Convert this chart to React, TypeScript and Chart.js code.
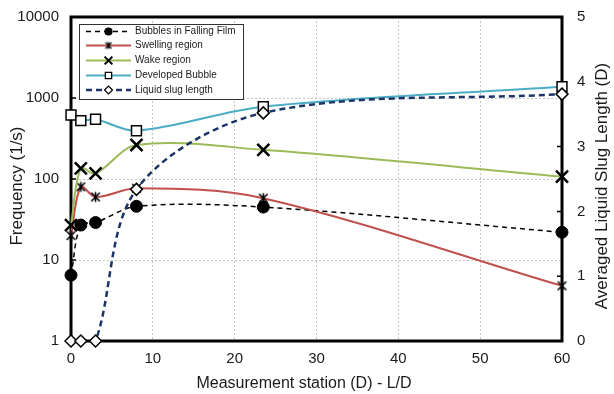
import React, { useEffect, useRef } from "react";
import { Chart, registerables } from "chart.js";
import { drawPoint } from "chart.js/helpers";

Chart.register(...registerables);

// ---- data ----
const stations = [0, 1.2, 3, 8, 23.5, 60];
const bubblesFilm = [6.5, 27, 29, 46, 45, 22];
const swellingRegion = [20, 80, 60, 77, 58, 4.8];
const wakeRegion = [27, 135, 117, 263, 229, 107];
const developedBubble = [617, 525, 546, 395, 781, 1381];
const slugLength = [0, 0, 0, 2.34, 3.52, 3.81];

const seriesNames = [
  "Bubbles in Falling Film",
  "Swelling region",
  "Wake region",
  "Developed Bubble",
  "Liquid slug length",
];
const freqTicks = [1, 10, 100, 1000, 10000];
const slugTicks = [0, 1, 2, 3, 4, 5];
const stationTicks = [0, 10, 20, 30, 40, 50, 60];
const xTitle = "Measurement station (D) - L/D";
const yTitle = "Frequency (1/s)";
const y1Title = "Averaged Liquid Slug Length (D)";

const FONT = '"Liberation Sans", Arial, sans-serif';

function makeAsterisk(size: number, lw: number) {
  const c = document.createElement("canvas");
  c.width = size;
  c.height = size;
  const g = c.getContext("2d")!;
  g.strokeStyle = "#000";
  g.lineWidth = lw;
  const m = size / 2;
  const h = size / 2 - 1.5;
  g.beginPath();
  g.moveTo(m - h * 0.85, m - h * 0.85);
  g.lineTo(m + h * 0.85, m + h * 0.85);
  g.moveTo(m + h * 0.85, m - h * 0.85);
  g.lineTo(m - h * 0.85, m + h * 0.85);
  g.moveTo(m, m - h);
  g.lineTo(m, m + h);
  g.stroke();
  return c;
}

const zeroPad = (scale: any) => {
  scale.paddingTop = 0;
  scale.paddingBottom = 0;
  scale.paddingLeft = 0;
  scale.paddingRight = 0;
};

export default function App() {
  const ref = useRef<HTMLCanvasElement | null>(null);

  useEffect(() => {
    const canvas = ref.current;
    if (!canvas) return;
    const asterisk = makeAsterisk(13, 1.6);
    const asteriskSmall = makeAsterisk(10, 1.4);

    const pts = (ys: number[]) => stations.map((x, i) => ({ x, y: ys[i] }));

    const styles = [
      {
        color: "#000000",
        width: 1.5,
        dash: [5, 4],
        pointStyle: "circle" as any,
        radius: 6,
        fill: "#000000",
        pBorder: 1,
        legendRadius: 3.5,
        legendStyle: "circle" as any,
      },
      {
        color: "#c0504d",
        width: 2,
        dash: [] as number[],
        pointStyle: asterisk as any,
        radius: 6,
        fill: "#000000",
        pBorder: 0,
        legendRadius: 4,
        legendStyle: asteriskSmall as any,
      },
      {
        color: "#9bbb59",
        width: 2,
        dash: [] as number[],
        pointStyle: "crossRot" as any,
        radius: 8.5,
        fill: "#000000",
        pBorder: 2.5,
        legendRadius: 5.5,
        legendStyle: "crossRot" as any,
      },
      {
        color: "#4bacc6",
        width: 2,
        dash: [] as number[],
        pointStyle: "rect" as any,
        radius: 7,
        fill: "#ffffff",
        pBorder: 1.5,
        legendRadius: 4.5,
        legendStyle: "rect" as any,
      },
      {
        color: "#1c3566",
        width: 2.5,
        dash: [6, 4],
        pointStyle: "rectRot" as any,
        radius: 6,
        fill: "#ffffff",
        pBorder: 1.5,
        legendRadius: 4,
        legendStyle: "rectRot" as any,
      },
    ];

    const seriesData = [bubblesFilm, swellingRegion, wakeRegion, developedBubble, slugLength];

    const datasets = seriesData.map((ys, i) => {
      const s = styles[i];
      return {
        label: seriesNames[i],
        data: pts(ys),
        yAxisID: i === 4 ? "y1" : "y",
        borderColor: s.color,
        borderWidth: s.width,
        borderDash: s.dash,
        tension: 0.33,
        pointStyle: s.pointStyle,
        pointRadius: s.radius,
        pointBackgroundColor: s.fill,
        pointBorderColor: "#000000",
        pointBorderWidth: s.pBorder,
        clip: false as any,
        order: i === 4 ? 0 : 5 - i,
      };
    });

    const framePlugin = {
      id: "frame",
      beforeDatasetsDraw(chart: any) {
        const { ctx, chartArea } = chart;
        const { left, top, right, bottom } = chartArea;
        ctx.save();
        ctx.strokeStyle = "#000";
        ctx.lineWidth = 3;
        ctx.strokeRect(left, top, right - left, bottom - top);
        ctx.lineWidth = 1.5;
        ctx.beginPath();
        freqTicks.forEach((v) => {
          const py = chart.scales.y.getPixelForValue(v);
          ctx.moveTo(left, py);
          ctx.lineTo(left + 5, py);
        });
        slugTicks.forEach((v) => {
          const py = chart.scales.y1.getPixelForValue(v);
          ctx.moveTo(right, py);
          ctx.lineTo(right - 5, py);
        });
        ctx.stroke();
        ctx.restore();
      },
      afterDraw(chart: any) {
        const { ctx } = chart;
        ctx.save();
        // axis titles
        ctx.fillStyle = "#1a1a1a";
        ctx.textAlign = "center";
        ctx.textBaseline = "middle";
        ctx.font = `17px ${FONT}`;
        ctx.save();
        ctx.translate(17.5, 186);
        ctx.rotate(-Math.PI / 2);
        ctx.fillText(yTitle, 0, 0);
        ctx.restore();
        ctx.save();
        ctx.translate(602, 186);
        ctx.rotate(-Math.PI / 2);
        ctx.fillText(y1Title, 0, 0);
        ctx.restore();
        ctx.font = `16px ${FONT}`;
        ctx.fillText(xTitle, 304, 384);

        // legend
        const bx = 79.5, by = 24.5, bw = 164, bh = 75;
        ctx.fillStyle = "#ffffff";
        ctx.fillRect(bx, by, bw, bh);
        ctx.strokeStyle = "#333";
        ctx.lineWidth = 1;
        ctx.strokeRect(bx, by, bw, bh);
        const rowY = [31.5, 45.5, 60.5, 75.5, 90];
        seriesNames.forEach((name, i) => {
          const s = styles[i];
          const y = rowY[i];
          ctx.save();
          ctx.strokeStyle = s.color;
          ctx.lineWidth = s.width;
          ctx.setLineDash(s.dash);
          ctx.beginPath();
          ctx.moveTo(86, y);
          ctx.lineTo(131, y);
          ctx.stroke();
          ctx.setLineDash([]);
          ctx.fillStyle = s.fill;
          ctx.strokeStyle = "#000";
          ctx.lineWidth = i === 2 ? 2 : 1.2;
          drawPoint(ctx, {
            pointStyle: s.legendStyle,
            radius: s.legendRadius,
            rotation: 0,
            borderWidth: i === 1 ? 0 : 1.2,
          } as any, 108.5, y);
          ctx.restore();
          ctx.fillStyle = "#1a1a1a";
          ctx.font = `10px ${FONT}`;
          ctx.textAlign = "left";
          ctx.textBaseline = "middle";
          ctx.fillText(name, 135, y);
        });
        ctx.restore();
      },
    };

    const chart = new Chart(canvas, {
      type: "line",
      data: { datasets: datasets as any },
      options: {
        responsive: false,
        animation: false,
        devicePixelRatio: 1,
        layout: { padding: { top: 17, left: 0, right: 0, bottom: 0 } },
        plugins: { legend: { display: false }, tooltip: { enabled: false } },
        scales: {
          x: {
            type: "linear",
            min: 0,
            max: 60,
            afterBuildTicks: (scale: any) => {
              scale.ticks = stationTicks.map((v) => ({ value: v }));
            },
            afterFit: (scale: any) => {
              scale.height = 53;
              zeroPad(scale);
            },
            ticks: {
              padding: 9,
              color: "#1a1a1a",
              font: { family: FONT, size: 15 },
            },
            grid: {
              drawTicks: false,
              color: (c: any) =>
                c.tick && (c.tick.value === 0 || c.tick.value === 60) ? "rgba(0,0,0,0)" : "#c4c4c4",
              lineWidth: 1,
            },
            border: { display: false, dash: [2, 2] },
          },
          y: {
            type: "logarithmic",
            position: "left",
            min: 1,
            max: 10000,
            afterBuildTicks: (scale: any) => {
              scale.ticks = freqTicks.map((v) => ({ value: v }));
            },
            afterFit: (scale: any) => {
              scale.width = 71;
              zeroPad(scale);
            },
            ticks: {
              padding: 12,
              color: "#1a1a1a",
              font: { family: FONT, size: 15 },
              callback: (v: any) => String(v),
            },
            grid: {
              drawTicks: false,
              color: (c: any) =>
                c.tick && (c.tick.value === 1 || c.tick.value === 10000) ? "rgba(0,0,0,0)" : "#c4c4c4",
              lineWidth: 1,
            },
            border: { display: false, dash: [2, 2] },
          },
          y1: {
            type: "linear",
            position: "right",
            min: 0,
            max: 5,
            afterBuildTicks: (scale: any) => {
              scale.ticks = slugTicks.map((v) => ({ value: v }));
            },
            afterFit: (scale: any) => {
              scale.width = 52;
              zeroPad(scale);
            },
            ticks: {
              padding: 15,
              color: "#1a1a1a",
              font: { family: FONT, size: 15 },
            },
            grid: { display: false, drawTicks: false },
            border: { display: false },
          },
        },
      },
      plugins: [framePlugin],
    });

    return () => chart.destroy();
  }, []);

  return (
    <div style={{ position: "absolute", left: 0, top: 0, width: 614, height: 394, background: "#fff" }}>
      <canvas ref={ref} width={614} height={394} style={{ display: "block" }} />
    </div>
  );
}
